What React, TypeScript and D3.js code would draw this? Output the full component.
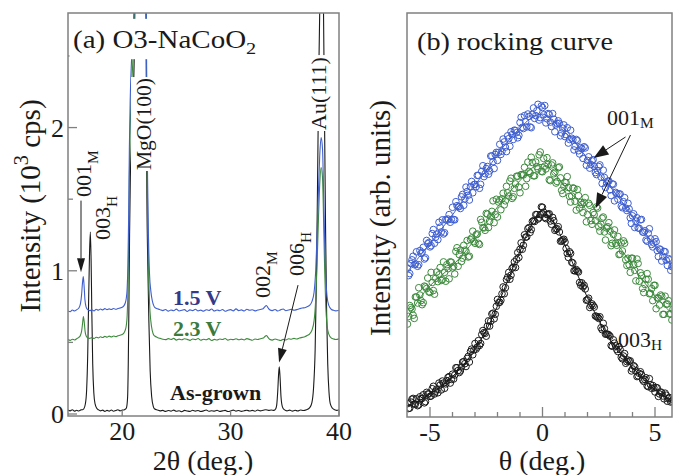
import React, { useRef, useEffect } from 'react';
import * as d3 from 'd3';

// ---- (a) XRD 2theta scans: [2θ (deg.), intensity (10^3 cps)] ----
const xrdAsGrown: [number, number][] = [
  [15.0, 0.028], [15.2, 0.022], [15.4, 0.03], [15.6, 0.02], [15.8, 0.026], [16.0, 0.021], [16.2, 0.029], [16.35, 0.03],
  [16.45, 0.035], [16.6, 0.07], [16.72, 0.17], [16.82, 0.42], [16.9, 0.78], [16.98, 1.1], [17.06, 1.27], [17.13, 1.08],
  [17.2, 0.7], [17.28, 0.35], [17.38, 0.15], [17.5, 0.07], [17.65, 0.04], [17.8, 0.03], [18.0, 0.022], [18.2, 0.027],
  [18.4, 0.018], [18.6, 0.025], [18.8, 0.02], [19.0, 0.028], [19.2, 0.019], [19.4, 0.024], [19.6, 0.03], [19.8, 0.022],
  [20.0, 0.027], [20.2, 0.03], [20.32, 0.035], [20.4, 0.045], [20.5, 0.12], [20.56, 0.35], [20.62, 0.75], [20.68, 1.25],
  [20.75, 1.65], [20.85, 1.9], [21.0, 2.2], [21.1, 2.45], [21.18, 2.9], [21.4, 3.6], [21.8, 3.8], [22.1, 3.4],
  [22.2, 2.8], [22.24, 2.0], [22.28, 1.5], [22.36, 1.05], [22.46, 0.65], [22.58, 0.3], [22.72, 0.12], [22.88, 0.05],
  [23.0, 0.035], [23.25, 0.028], [23.5, 0.022], [23.75, 0.025], [24.0, 0.018], [24.25, 0.024], [24.5, 0.02], [24.75, 0.027],
  [25.0, 0.019], [25.25, 0.023], [25.5, 0.016], [25.75, 0.025], [26.0, 0.021], [26.25, 0.018], [26.5, 0.026], [26.75, 0.02],
  [27.0, 0.024], [27.25, 0.017], [27.5, 0.022], [27.75, 0.028], [28.0, 0.019], [28.25, 0.023], [28.5, 0.02], [28.75, 0.026],
  [29.0, 0.018], [29.25, 0.022], [29.5, 0.025], [29.75, 0.017], [30.0, 0.021], [30.25, 0.027], [30.5, 0.02], [30.75, 0.024],
  [31.0, 0.018], [31.25, 0.023], [31.5, 0.026], [31.75, 0.021], [32.0, 0.025], [32.25, 0.019], [32.5, 0.028], [32.75, 0.022],
  [33.0, 0.026], [33.25, 0.03], [33.5, 0.025], [33.75, 0.028], [34.0, 0.025], [34.15, 0.035], [34.25, 0.06], [34.35, 0.16],
  [34.43, 0.28], [34.49, 0.33], [34.56, 0.26], [34.65, 0.12], [34.78, 0.05], [34.95, 0.03], [35.2, 0.022], [35.45, 0.027],
  [35.7, 0.02], [35.95, 0.026], [36.2, 0.021], [36.45, 0.028], [36.7, 0.024], [37.0, 0.03], [37.3, 0.045], [37.5, 0.08],
  [37.65, 0.18], [37.8, 0.45], [37.92, 0.95], [38.02, 1.6], [38.12, 2.3], [38.24, 2.9], [38.42, 3.6], [38.56, 2.9],
  [38.66, 2.1], [38.76, 1.3], [38.86, 0.7], [38.96, 0.35], [39.08, 0.15], [39.2, 0.07], [39.4, 0.04], [39.6, 0.03],
  [39.8, 0.025], [40.0, 0.03]
];

const xrd1p5V: [number, number][] = [
  [15.0, 0.72], [15.2, 0.714], [15.4, 0.726], [15.6, 0.719], [15.8, 0.728], [16.0, 0.74], [16.15, 0.77], [16.25, 0.83],
  [16.33, 0.91], [16.41, 0.96], [16.48, 0.9], [16.56, 0.8], [16.66, 0.75], [16.8, 0.73], [17.0, 0.722], [17.2, 0.728],
  [17.4, 0.72], [17.6, 0.731], [17.8, 0.725], [18.0, 0.733], [18.2, 0.727], [18.4, 0.736], [18.6, 0.729], [18.8, 0.734],
  [19.0, 0.73], [19.2, 0.737], [19.4, 0.731], [19.6, 0.736], [19.8, 0.74], [20.0, 0.745], [20.15, 0.755], [20.28, 0.775],
  [20.38, 0.81], [20.46, 0.88], [20.53, 1.05], [20.6, 1.4], [20.66, 1.85], [20.74, 2.2], [20.85, 2.45], [21.0, 2.65],
  [21.1, 2.85], [21.2, 3.2], [21.4, 3.8], [21.8, 4.0], [22.1, 3.6], [22.2, 3.0], [22.24, 2.6], [22.28, 2.1],
  [22.34, 1.65], [22.42, 1.25], [22.52, 0.98], [22.64, 0.86], [22.78, 0.79], [22.92, 0.755],
  [23.0, 0.745], [23.25, 0.735], [23.5, 0.728], [23.75, 0.722], [24.0, 0.73], [24.25, 0.718], [24.5, 0.726], [24.75, 0.721],
  [25.0, 0.732], [25.25, 0.719], [25.5, 0.724], [25.75, 0.729], [26.0, 0.716], [26.25, 0.727], [26.5, 0.722], [26.75, 0.731],
  [27.0, 0.72], [27.25, 0.725], [27.5, 0.718], [27.75, 0.728], [28.0, 0.723], [28.25, 0.733], [28.5, 0.719], [28.75, 0.726],
  [29.0, 0.721], [29.25, 0.73], [29.5, 0.717], [29.75, 0.725], [30.0, 0.729], [30.25, 0.72], [30.5, 0.734], [30.75, 0.722],
  [31.0, 0.727], [31.25, 0.719], [31.5, 0.731], [31.75, 0.724], [32.0, 0.728], [32.25, 0.72], [32.5, 0.726], [32.75, 0.73],
  [33.0, 0.735], [33.15, 0.748], [33.3, 0.758], [33.45, 0.742], [33.6, 0.728], [33.85, 0.722], [34.1, 0.73], [34.35, 0.719],
  [34.6, 0.727], [34.85, 0.733], [35.1, 0.721], [35.35, 0.726], [35.6, 0.731], [35.85, 0.724], [36.1, 0.729], [36.35, 0.735],
  [36.6, 0.74], [36.85, 0.742], [37.1, 0.75], [37.3, 0.76], [37.5, 0.785], [37.7, 0.85], [37.85, 1.0], [37.98, 1.25],
  [38.1, 1.55], [38.22, 1.8], [38.35, 1.93], [38.48, 1.85], [38.58, 1.55], [38.68, 1.2], [38.78, 0.95], [38.9, 0.82],
  [39.05, 0.76], [39.3, 0.73], [39.5, 0.724], [39.7, 0.72], [40.0, 0.725]
];

const xrd2p3V: [number, number][] = [
  [15.0, 0.52], [15.2, 0.514], [15.4, 0.522], [15.6, 0.517], [15.8, 0.526], [16.0, 0.535], [16.15, 0.55], [16.26, 0.58],
  [16.34, 0.63], [16.42, 0.68], [16.5, 0.64], [16.58, 0.575], [16.68, 0.545], [16.82, 0.532], [17.0, 0.528], [17.2, 0.533],
  [17.4, 0.527], [17.6, 0.536], [17.8, 0.531], [18.0, 0.539], [18.2, 0.534], [18.4, 0.542], [18.6, 0.536], [18.8, 0.544],
  [19.0, 0.538], [19.2, 0.545], [19.4, 0.54], [19.6, 0.546], [19.8, 0.55], [20.0, 0.555], [20.15, 0.565], [20.28, 0.585],
  [20.38, 0.62], [20.46, 0.69], [20.53, 0.86], [20.6, 1.2], [20.66, 1.65], [20.74, 2.0], [20.85, 2.25], [21.0, 2.5],
  [21.1, 2.75], [21.2, 3.1], [21.4, 3.7], [21.8, 3.9], [22.1, 3.5], [22.2, 2.9], [22.24, 2.4], [22.28, 1.9],
  [22.34, 1.45], [22.42, 1.05], [22.52, 0.78], [22.64, 0.65], [22.78, 0.58], [22.92, 0.55],
  [23.0, 0.545], [23.25, 0.535], [23.5, 0.528], [23.75, 0.522], [24.0, 0.519], [24.25, 0.526], [24.5, 0.52], [24.75, 0.528],
  [25.0, 0.516], [25.25, 0.523], [25.5, 0.518], [25.75, 0.525], [26.0, 0.521], [26.25, 0.514], [26.5, 0.524], [26.75, 0.519],
  [27.0, 0.527], [27.25, 0.515], [27.5, 0.522], [27.75, 0.518], [28.0, 0.526], [28.25, 0.513], [28.5, 0.521], [28.75, 0.517],
  [29.0, 0.524], [29.25, 0.52], [29.5, 0.527], [29.75, 0.516], [30.0, 0.522], [30.25, 0.519], [30.5, 0.525], [30.75, 0.518],
  [31.0, 0.523], [31.25, 0.517], [31.5, 0.526], [31.75, 0.521], [32.0, 0.515], [32.25, 0.524], [32.5, 0.52], [32.75, 0.526],
  [33.0, 0.53], [33.15, 0.54], [33.3, 0.548], [33.45, 0.535], [33.6, 0.522], [33.85, 0.516], [34.1, 0.524], [34.35, 0.519],
  [34.6, 0.513], [34.85, 0.521], [35.1, 0.517], [35.35, 0.525], [35.6, 0.522], [35.85, 0.528], [36.1, 0.524], [36.35, 0.53],
  [36.6, 0.535], [36.85, 0.54], [37.1, 0.55], [37.3, 0.56], [37.5, 0.585], [37.7, 0.65], [37.85, 0.8], [37.98, 1.05],
  [38.1, 1.35], [38.22, 1.6], [38.35, 1.72], [38.48, 1.65], [38.58, 1.35], [38.68, 1.0], [38.78, 0.75], [38.9, 0.62],
  [39.05, 0.56], [39.3, 0.53], [39.5, 0.524], [39.7, 0.52], [40.0, 0.525]
];

const xrdXTicks = [20, 30, 40];
const xrdYTicks = [0, 1, 2];
const xrdYMinorTicks = [0.5, 1.5, 2.5];

// ---- (b) rocking curves (arb. units), two interleaved scans on a 0.1 deg grid ----
const rockThetaStart = -6.0;
const rockThetaStartHalf = -5.95;
const rockThetaStep = 0.1;

const rock1p5V = [
  36.8, 35.5, 38.9, 37.7, 40.9, 37.7, 40.5, 42.0, 39.4, 42.9, 42.1, 45.4, 43.0, 45.3, 48.2, 45.8, 45.3, 48.9, 49.0, 48.2,
  51.9, 48.8, 52.3, 52.1, 54.5, 52.4, 56.9, 54.9, 57.0, 55.5, 57.6, 59.8, 56.6, 60.8, 59.5, 61.5, 60.1, 64.6, 63.2, 65.0,
  63.5, 67.5, 65.8, 68.1, 65.7, 68.9, 70.6, 68.7, 70.9, 69.1, 72.9, 71.7, 74.6, 71.8, 74.4, 71.6, 76.5, 74.6, 77.4, 74.1,
  76.6, 77.1, 73.8, 74.9, 71.9, 73.7, 72.3, 73.3, 69.6, 71.5, 69.4, 71.6, 68.7, 69.0, 66.1, 68.7, 65.9, 66.7, 64.0, 66.6,
  63.5, 61.6, 63.4, 62.0, 60.0, 62.0, 59.4, 61.1, 56.8, 58.4, 56.2, 57.7, 53.5, 55.3, 55.2, 52.2, 53.3, 51.7, 52.9, 49.3,
  49.8, 46.9, 49.3, 46.7, 48.9, 45.7, 43.8, 45.5, 44.1, 42.1, 44.1, 41.2, 41.6, 38.6, 41.0, 38.8, 39.2, 36.3, 37.4
];
const rock1p5VHalf = [
  35.0, 38.0, 39.8, 37.9, 37.3, 41.2, 40.8, 39.1, 43.7, 43.2, 42.4, 46.4, 44.5, 43.9, 47.0, 48.8, 45.6, 48.7, 50.1, 48.9,
  48.9, 53.3, 52.0, 51.6, 55.1, 54.0, 55.8, 53.7, 58.3, 57.5, 57.0, 59.8, 57.6, 62.2, 60.2, 62.0, 60.9, 64.6, 61.5, 65.5,
  65.5, 65.0, 68.8, 66.8, 69.6, 67.0, 69.9, 71.0, 70.4, 69.7, 74.2, 71.4, 73.1, 75.0, 71.8, 74.9, 73.9, 75.8, 73.5, 77.0,
  74.8, 72.8, 75.1, 73.0, 75.1, 70.6, 72.7, 72.7, 70.3, 72.3, 69.9, 67.8, 71.0, 68.6, 67.0, 68.4, 65.1, 66.4, 66.9, 62.3,
  64.4, 62.5, 63.7, 60.5, 61.0, 62.4, 57.8, 59.3, 57.9, 58.4, 54.8, 57.6, 55.6, 53.9, 55.2, 51.8, 54.3, 51.1, 51.5, 47.9,
  50.3, 48.5, 46.8, 48.8, 45.8, 46.1, 43.5, 46.6, 42.7, 43.1, 43.4, 39.7, 41.4, 39.8, 40.9, 37.5, 38.9, 37.2
];

const rock2p3V = [
  23.0, 27.6, 26.7, 24.4, 29.7, 32.0, 28.8, 28.3, 32.2, 34.4, 30.8, 33.3, 30.4, 35.9, 35.2, 33.8, 38.4, 33.6, 36.7, 38.4,
  36.9, 35.4, 41.9, 40.2, 38.5, 42.5, 41.0, 39.6, 43.9, 46.0, 43.0, 45.3, 42.7, 48.2, 46.8, 50.4, 46.9, 49.7, 53.5, 50.1,
  49.5, 53.7, 54.0, 52.5, 57.1, 54.7, 59.1, 54.5, 57.7, 59.6, 55.5, 60.0, 61.8, 59.0, 60.8, 64.3, 59.7, 63.1, 61.4, 65.6,
  60.7, 62.1, 64.2, 58.7, 62.4, 60.2, 57.9, 61.7, 59.2, 55.3, 58.1, 59.5, 54.6, 54.7, 56.6, 51.2, 54.8, 53.1, 50.6, 54.3,
  50.1, 52.4, 47.7, 50.1, 52.0, 47.1, 47.7, 49.5, 43.8, 47.1, 46.0, 43.0, 46.3, 42.5, 40.2, 43.1, 43.6, 38.9, 39.3, 35.8,
  39.3, 36.3, 39.1, 33.6, 35.0, 30.8, 34.1, 34.1, 30.6, 28.8, 32.6, 29.5, 27.7, 29.9, 25.4, 27.9, 28.8, 25.5, 26.7
];
const rock2p3VHalf = [
  24.9, 27.1, 25.2, 29.7, 28.2, 30.2, 27.8, 32.4, 31.8, 31.0, 35.8, 31.3, 34.3, 33.5, 37.0, 34.0, 35.8, 37.7, 34.2, 38.3,
  37.3, 41.0, 37.3, 41.3, 39.3, 41.3, 43.7, 39.8, 44.3, 43.4, 45.1, 43.0, 48.9, 46.9, 46.2, 50.2, 48.5, 50.9, 48.1, 53.9,
  53.2, 51.3, 55.4, 53.5, 55.5, 58.4, 54.1, 56.6, 59.6, 56.9, 60.0, 59.9, 57.1, 63.1, 60.4, 63.0, 59.7, 62.0, 64.9, 60.8,
  64.0, 61.4, 62.5, 58.5, 62.9, 60.6, 58.3, 61.9, 56.1, 57.1, 58.0, 56.8, 53.2, 56.7, 53.4, 56.3, 51.7, 52.6, 53.1, 48.3,
  52.9, 48.6, 50.6, 48.6, 51.7, 46.0, 49.2, 45.8, 46.8, 48.1, 42.4, 45.2, 43.0, 44.7, 40.3, 41.1, 43.0, 37.5, 37.7, 39.3,
  37.6, 33.7, 38.0, 35.7, 31.8, 32.8, 35.5, 30.5, 31.8, 32.6, 26.8, 29.4, 30.2, 25.4, 29.9, 28.0, 25.5, 24.0
];

const rock003H = [
  3.3, 2.2, 4.4, 3.2, 4.5, 3.0, 4.5, 5.5, 3.8, 5.7, 5.1, 7.0, 5.7, 6.9, 8.4, 6.7, 8.4, 8.2, 9.8, 8.4,
  10.6, 10.4, 12.2, 11.0, 12.4, 13.7, 12.5, 15.0, 16.2, 15.4, 18.2, 17.3, 17.7, 20.4, 20.9, 20.0, 23.8, 23.7, 25.7, 25.4,
  29.1, 28.4, 30.5, 30.5, 34.0, 35.8, 35.1, 37.1, 37.0, 40.7, 41.5, 41.5, 45.1, 44.6, 46.9, 46.4, 48.6, 50.1, 49.0, 50.1,
  51.9, 49.4, 50.1, 50.3, 47.7, 48.6, 46.5, 47.1, 43.5, 43.8, 43.3, 40.5, 40.9, 38.3, 36.2, 36.5, 35.9, 32.6, 32.2, 31.7,
  29.0, 27.1, 28.0, 27.2, 24.9, 24.4, 22.1, 23.2, 20.5, 20.5, 20.0, 17.5, 18.3, 16.7, 17.4, 14.8, 15.1, 13.3, 14.1, 13.9,
  11.9, 12.4, 10.0, 10.8, 10.5, 8.8, 9.7, 7.5, 8.0, 7.8, 6.2, 7.2, 5.7, 6.0, 4.5, 5.4, 4.6, 3.7, 4.3
];
const rock003HHalf = [
  2.1, 3.7, 4.6, 3.2, 2.8, 5.0, 4.6, 3.5, 6.1, 5.7, 5.2, 7.6, 6.4, 6.0, 7.9, 8.9, 7.1, 9.0, 10.0, 9.3,
  9.4, 12.2, 11.5, 11.4, 13.6, 13.2, 14.5, 13.6, 16.8, 16.6, 16.8, 18.9, 18.2, 21.4, 20.7, 22.5, 22.5, 25.5, 24.3, 27.4,
  28.3, 28.9, 32.2, 32.0, 34.6, 34.1, 36.8, 38.4, 39.0, 39.5, 43.1, 42.5, 44.5, 46.6, 45.7, 48.4, 48.4, 50.1, 49.3, 52.0,
  50.7, 49.1, 50.2, 48.5, 49.4, 46.2, 46.6, 45.8, 43.6, 44.0, 41.7, 39.5, 40.5, 38.1, 36.2, 36.1, 33.3, 33.2, 32.6, 28.9,
  29.4, 27.6, 27.6, 25.0, 24.7, 24.8, 21.6, 21.9, 20.5, 20.3, 17.7, 19.1, 17.6, 16.2, 16.7, 14.4, 15.7, 13.7, 13.8, 11.4,
  12.7, 11.4, 10.2, 11.2, 9.2, 9.3, 7.7, 9.5, 7.1, 7.2, 7.3, 5.1, 6.2, 5.2, 5.9, 3.9, 4.8, 3.9
];

// fitted curves
const rockFitTheta = [-6, -5.5, -5, -4.5, -4, -3.5, -3, -2.5, -2, -1.5, -1, -0.5, 0, 0.5, 1, 1.5, 2, 2.5, 3, 3.5, 4, 4.5, 5, 5.5, 5.8];
const rockFit1p5V = [36.0, 39.5, 43.0, 46.5, 50.0, 54.0, 57.5, 61.0, 65.0, 68.5, 71.5, 74.0, 75.0, 73.0, 70.5, 67.5, 64.0, 60.5, 57.0, 53.5, 49.5, 46.0, 42.5, 39.0, 37.0];
const rockFit2p3V = [24.5, 29.0, 32.5, 35.0, 37.5, 40.5, 44.0, 48.0, 52.0, 55.5, 58.5, 61.5, 62.5, 60.5, 57.0, 54.0, 51.0, 48.5, 45.5, 41.5, 37.5, 33.5, 30.0, 27.0, 25.5];
const rockFit003H = [2.8, 4.0, 5.6, 7.6, 10.0, 13.0, 16.8, 21.5, 27.5, 34.5, 41.0, 47.5, 51.0, 48.0, 42.5, 36.0, 29.5, 24.0, 19.2, 15.5, 12.3, 9.3, 6.8, 4.8, 3.8];

const rockXTicks = [-5, 0, 5];
const rockXMinorTicks = [-4, -3, -2, -1, 1, 2, 3, 4];

const SERIF = "'Liberation Serif', 'Times New Roman', serif";
const BLUE = '#3f5fcf';
const GREEN = '#3d8a3d';
const BLACK = '#1a1a1a';
const FRAME = '#808080';

type Part = { t: string; sub?: boolean; sup?: boolean };

function drawText(parent: any, o: any) {
  const size = o.size;
  const sx = o.sx || 1;
  const g = parent.append('g')
    .attr('transform', `translate(${o.x},${o.y}) scale(${sx},1)${o.rotate ? ' rotate(-90)' : ''}`);
  const rect = o.bg ? g.append('rect').attr('fill', 'white') : null;
  const text = g.append('text')
    .attr('font-family', SERIF)
    .attr('font-size', size)
    .attr('text-anchor', o.anchor || 'start')
    .attr('font-weight', o.weight || 'normal')
    .attr('fill', o.fill || BLACK);
  let shift = 0;
  (o.parts as Part[]).forEach(p => {
    const ts = text.append('tspan').text(p.t);
    const target = p.sub ? size * (o.subDrop || 0.22) : p.sup ? -size * 0.4 : 0;
    if (target - shift !== 0) ts.attr('dy', target - shift);
    shift = target;
    if (p.sub || p.sup) ts.attr('font-size', size * 0.7);
  });
  if (rect) {
    const b = text.node().getBBox();
    const [t, r, bt, l] = o.bg;
    rect.attr('x', b.x - l).attr('y', b.y - t)
      .attr('width', b.width + l + r).attr('height', b.height + t + bt);
  }
}

function arrow(parent: any, x1: number, y1: number, x2: number, y2: number, len: number, half: number) {
  const a = Math.atan2(y2 - y1, x2 - x1);
  const bx = x2 - len * Math.cos(a), by = y2 - len * Math.sin(a);
  parent.append('line').attr('x1', x1).attr('y1', y1).attr('x2', bx).attr('y2', by)
    .attr('stroke', BLACK).attr('stroke-width', 1);
  const px = -Math.sin(a) * half, py = Math.cos(a) * half;
  parent.append('path')
    .attr('d', `M${x2},${y2}L${bx + px},${by + py}L${bx - px},${by - py}Z`)
    .attr('fill', BLACK);
}

const App = () => {
  const svgRef = useRef<SVGSVGElement>(null);

  useEffect(() => {
    const svg = d3.select(svgRef.current);
    svg.selectAll('*').remove();

    // ---------- panel (a) ----------
    const aL = 68, aR = 339, aT = 13, aB = 416;
    const ax = d3.scaleLinear().domain([15, 40]).range([aL, aR]);
    const ay = d3.scaleLinear().domain([0, 2.8]).range([414, aT]);

    const defs = svg.append('defs');
    defs.append('clipPath').attr('id', 'clipA').append('rect')
      .attr('x', aL).attr('y', aT).attr('width', aR - aL).attr('height', aB - aT);
    defs.append('clipPath').attr('id', 'clipB').append('rect')
      .attr('x', 407).attr('y', 13).attr('width', 265).attr('height', 404);

    const ga = svg.append('g');
    const lineA = d3.line<[number, number]>().x(d => ax(d[0])).y(d => ay(d[1])).curve(d3.curveMonotoneX);
    const plotA = ga.append('g').attr('clip-path', 'url(#clipA)');
    [[xrdAsGrown, BLACK], [xrd2p3V, GREEN], [xrd1p5V, BLUE]].forEach(([data, c]: any) => {
      plotA.append('path').attr('d', lineA(data)).attr('fill', 'none')
        .attr('stroke', c).attr('stroke-width', 1.1);
    });

    ga.append('rect').attr('x', aL).attr('y', aT).attr('width', aR - aL).attr('height', aB - aT)
      .attr('fill', 'none').attr('stroke', FRAME).attr('stroke-width', 1.5);
    xrdYTicks.forEach(v => ga.append('line').attr('x1', aL).attr('x2', aL + 9)
      .attr('y1', ay(v)).attr('y2', ay(v)).attr('stroke', FRAME).attr('stroke-width', 1.3));
    xrdYMinorTicks.forEach(v => ga.append('line').attr('x1', aL).attr('x2', aL + 5)
      .attr('y1', ay(v)).attr('y2', ay(v)).attr('stroke', FRAME).attr('stroke-width', 1.3));
    xrdXTicks.forEach(v => ga.append('line').attr('x1', ax(v)).attr('x2', ax(v))
      .attr('y1', aB).attr('y2', aB - 6).attr('stroke', FRAME).attr('stroke-width', 1.3));

    xrdYTicks.forEach(v => drawText(ga, { x: 64, y: ay(v) + 9, size: 26, anchor: 'end', parts: [{ t: String(v) }] }));
    xrdXTicks.forEach(v => drawText(ga, { x: ax(v), y: 440, size: 26, anchor: 'middle', parts: [{ t: String(v) }] }));

    drawText(ga, { x: 203, y: 470, size: 28, anchor: 'middle', parts: [{ t: '2θ (deg.)' }] });
    drawText(ga, { x: 40, y: 206, size: 29, anchor: 'middle', rotate: true,
      parts: [{ t: 'Intensity (10' }, { t: '3', sup: true }, { t: ' cps)' }] });

    drawText(ga, { x: 73, y: 48, size: 25, sx: 1.16, bg: [7, 3, 2, 3],
      parts: [{ t: '(a) O3-NaCoO' }, { t: '2', sub: true }] });
    drawText(ga, { x: 151, y: 170, size: 21.5, rotate: true, bg: [1, 1, 1, 1], parts: [{ t: 'MgO(100)' }] });
    drawText(ga, { x: 326, y: 130, size: 22, rotate: true, bg: [1, 2, 1, 1], parts: [{ t: 'Au(111)' }] });
    drawText(ga, { x: 91, y: 197, size: 22, rotate: true, subDrop: 0.3, parts: [{ t: '001' }, { t: 'M', sub: true }] });
    drawText(ga, { x: 110, y: 240, size: 22, rotate: true, subDrop: 0.3, parts: [{ t: '003' }, { t: 'H', sub: true }] });
    drawText(ga, { x: 270, y: 298, size: 22, rotate: true, subDrop: 0.3, parts: [{ t: '002' }, { t: 'M', sub: true }] });
    drawText(ga, { x: 304, y: 276, size: 22, rotate: true, subDrop: 0.3, parts: [{ t: '006' }, { t: 'H', sub: true }] });

    drawText(ga, { x: 173, y: 305, size: 20, sx: 1.1, weight: 'bold', fill: '#35398a', parts: [{ t: '1.5 V' }] });
    drawText(ga, { x: 173, y: 336, size: 20, sx: 1.1, weight: 'bold', fill: '#3b7a3b', parts: [{ t: '2.3 V' }] });
    drawText(ga, { x: 170, y: 400, size: 20, sx: 1.1, weight: 'bold', fill: BLACK, parts: [{ t: 'As-grown' }] });

    arrow(ga, ax(16.2), ay(1.49), ax(16.2), ay(0.99), 14, 4);
    arrow(ga, ax(36.22), ay(0.9), ax(34.47), ay(0.36), 14, 4.5);

    // ---------- panel (b) ----------
    const bL = 407, bR = 672, bT = 13, bB = 417;
    const bx = d3.scaleLinear().domain([-5, 5]).range([430, 655]);
    const by = d3.scaleLinear().domain([0, 100]).range([bB, bT]);
    const gb = svg.append('g');
    const plotB = gb.append('g').attr('clip-path', 'url(#clipB)');
    const fitLine = d3.line<number>().x((d, i) => bx(rockFitTheta[i])).y(d => by(d)).curve(d3.curveCatmullRom);
    const series: [number[], number[], number[], string][] = [
      [rock003H, rock003HHalf, rockFit003H, BLACK],
      [rock2p3V, rock2p3VHalf, rockFit2p3V, GREEN],
      [rock1p5V, rock1p5VHalf, rockFit1p5V, BLUE]
    ];
    series.forEach(([pts, ptsHalf, fit, c]) => {
      plotB.append('path').attr('d', fitLine(fit)).attr('fill', 'none').attr('stroke', c).attr('stroke-width', 1);
      const dots = [
        ...pts.map((v, i) => [rockThetaStart + i * rockThetaStep, v]),
        ...ptsHalf.map((v, i) => [rockThetaStartHalf + i * rockThetaStep, v])
      ];
      plotB.append('g').selectAll('circle').data(dots).enter().append('circle')
        .attr('cx', d => bx(d[0]))
        .attr('cy', d => by(d[1]))
        .attr('r', 3.3)
        .attr('fill', 'none')
        .attr('stroke', c)
        .attr('stroke-width', 1);
    });

    gb.append('rect').attr('x', bL).attr('y', bT).attr('width', bR - bL).attr('height', bB - bT)
      .attr('fill', 'none').attr('stroke', FRAME).attr('stroke-width', 1.5);
    rockXTicks.forEach(v => gb.append('line').attr('x1', bx(v)).attr('x2', bx(v))
      .attr('y1', bB).attr('y2', bB - 10).attr('stroke', FRAME).attr('stroke-width', 1.3));
    rockXMinorTicks.forEach(v => gb.append('line').attr('x1', bx(v)).attr('x2', bx(v))
      .attr('y1', bB).attr('y2', bB - 5).attr('stroke', FRAME).attr('stroke-width', 1.3));
    rockXTicks.forEach(v => drawText(gb, { x: bx(v), y: 441, size: 26, anchor: 'middle', parts: [{ t: String(v) }] }));

    drawText(gb, { x: 542, y: 470, size: 28, anchor: 'middle', parts: [{ t: 'θ (deg.)' }] });
    drawText(gb, { x: 390, y: 218, size: 29, anchor: 'middle', rotate: true, parts: [{ t: 'Intensity (arb. units)' }] });
    drawText(gb, { x: 417, y: 50, size: 25, sx: 1.13, parts: [{ t: '(b) rocking curve' }] });
    drawText(gb, { x: 607, y: 125, size: 22, subDrop: 0.12, parts: [{ t: '001' }, { t: 'M', sub: true }] });
    drawText(gb, { x: 618, y: 347, size: 22, subDrop: 0.15, parts: [{ t: '003' }, { t: 'H', sub: true }] });

    arrow(gb, bx(3.69), by(69.3), bx(2.27), by(64.1), 15, 5.5);
    arrow(gb, bx(3.91), by(69.8), bx(2.36), by(51.7), 15, 5.5);
  }, []);

  return (
    <svg ref={svgRef} width={673} height={475}
      style={{ position: 'absolute', left: 0, top: 0, background: 'white' }} />
  );
};

export default App;
